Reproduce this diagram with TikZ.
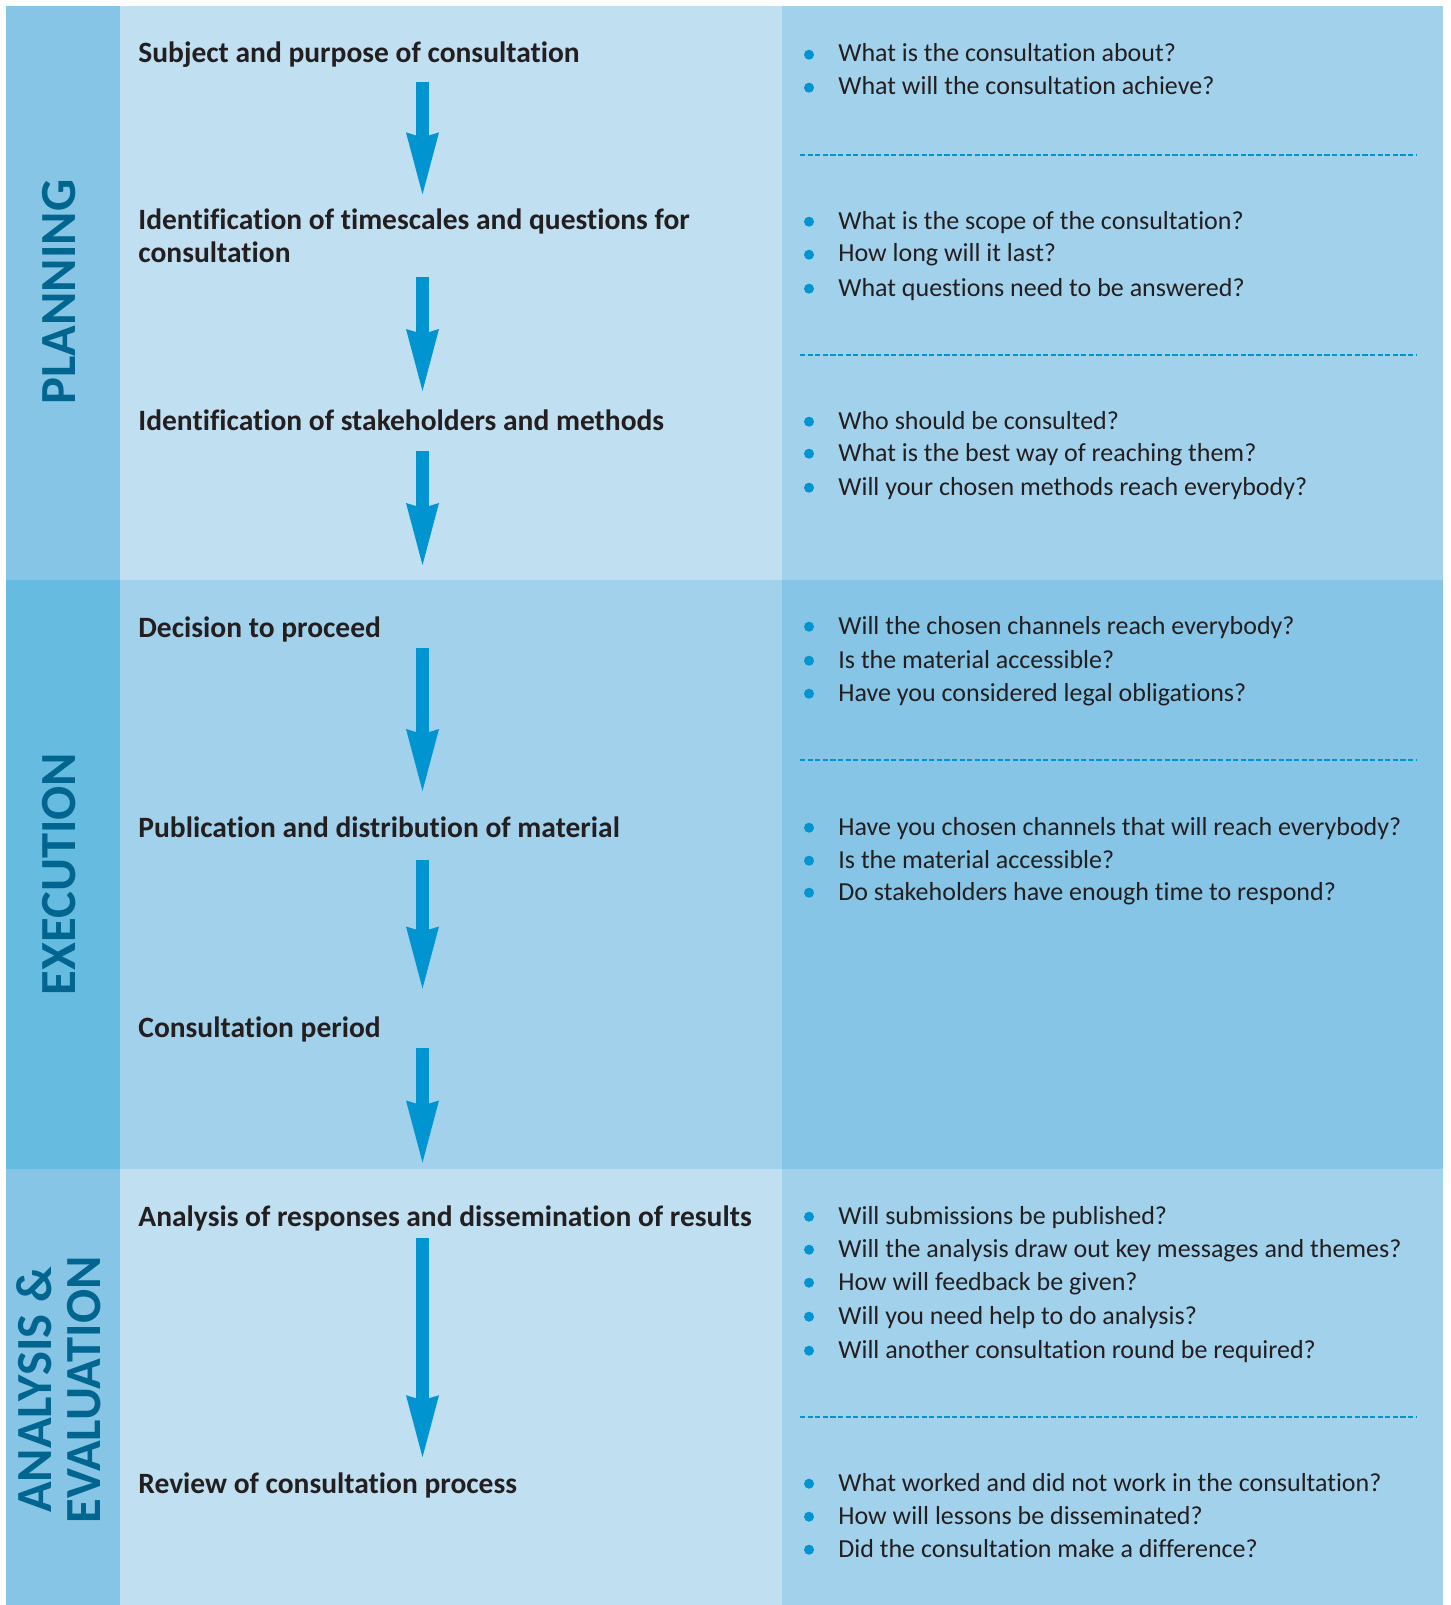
\documentclass[tikz,border=0pt]{standalone}
\usepackage{fontspec}
\setmainfont{Carlito}[Ligatures=NoCommon]
\usetikzlibrary{arrows.meta}

\definecolor{panelmid}{HTML}{C0DFF1}
\definecolor{panelside}{HTML}{A2D1EC}
\definecolor{paneldark}{HTML}{86C5E6}
\definecolor{paneldeep}{HTML}{66BBE0}
\definecolor{flowblue}{HTML}{0095D0}
\definecolor{stageblue}{HTML}{00668F}
\definecolor{ink}{HTML}{231F20}

\begin{document}
\begin{tikzpicture}[
    x=0.5pt, y=-0.5pt,
    heading/.style={anchor=base west, inner sep=0pt, text=ink,
        font=\fontsize{14.75}{16.5}\selectfont\bfseries},
    question/.style={anchor=base west, inner sep=0pt, text=ink,
        font=\fontsize{13}{15}\selectfont, text height=12pt, text depth=4.7pt},
    dot/.style={circle, fill=flowblue, inner sep=0pt, minimum size=5pt},
    stage/.style={rotate=90, inner sep=0pt, text=stageblue, align=center,
        font=\fontsize{25.3}{24.5}\selectfont\bfseries},
    flow/.style={line width=6.5pt, draw=flowblue,
        -{Stealth[length=31pt, width=16.5pt, inset=2.5pt, line width=0pt]}},
    divider/.style={draw=flowblue, line width=1pt, dash pattern=on 2.6pt off 1.2pt}
]
    \useasboundingbox (0,0) rectangle (1450,1605);

    % bands: planning, execution, analysis
    \fill[paneldark] (6,6) rectangle (120,580);
    \fill[panelmid] (120,6) rectangle (782,580);
    \fill[panelside] (782,6) rectangle (1443,580);
    \fill[paneldeep] (6,580) rectangle (120,1169);
    \fill[panelside] (120,580) rectangle (782,1169);
    \fill[paneldark] (782,580) rectangle (1443,1169);
    \fill[paneldark] (6,1169) rectangle (120,1605);
    \fill[panelmid] (120,1169) rectangle (782,1605);
    \fill[panelside] (782,1169) rectangle (1443,1605);

    % stage names
    \node[stage] (planning) at (59,292) {PLANNING};
    \node[stage] (execution) at (59,874) {EXECUTION};
    \node[stage] (analysis) at (59,1390) {ANALYSIS \&\\EVALUATION};

    % steps
    \node[heading] (h1) at (138,63) {Subject and purpose of consultation};
    \node[heading] (h2) at (138,230) {\begin{tabular}[t]{@{}l@{}}Identification of timescales and questions for\\consultation\end{tabular}};
    \node[heading] (h3) at (138,430) {Identification of stakeholders and methods};
    \node[heading] (h4) at (138,637) {Decision to proceed};
    \node[heading] (h5) at (138,837) {Publication and distribution of material};
    \node[heading] (h6) at (138,1037) {Consultation period};
    \node[heading] (h7) at (138,1226) {Analysis of responses and dissemination of results};
    \node[heading] (h8) at (138,1493) {Review of consultation process};

    \coordinate (axis) at (422.5,0);
    \foreach \a/\b/\s/\e in {h1/h2/9.5/17.8, h2/h3/23.65/19.5, h3/h4/10.65/36,
        h4/h5/5.4/23, h5/h6/11.3/24.25, h6/h7/5.45/31.75, h7/h8/6.1/17.9}
        \draw[flow, shorten <=\s pt, shorten >=\e pt] (\a.base -| axis) -- (\b.base -| axis);

    % questions
    \foreach \y/\txt in {62/What is the consultation about?,
        95/What will the consultation achieve?,
        229/What is the scope of the consultation?,
        262/How long will it last?,
        296/What questions need to be answered?,
        429/Who should be consulted?,
        461/What is the best way of reaching them?,
        495/Will your chosen methods reach everybody?,
        634/Will the chosen channels reach everybody?,
        668/Is the material accessible?,
        701/Have you considered legal obligations?,
        835/Have you chosen channels that will reach everybody?,
        868/Is the material accessible?,
        900/Do stakeholders have enough time to respond?,
        1224/Will submissions be published?,
        1257/Will the analysis draw out key messages and themes?,
        1290/How will feedback be given?,
        1324/Will you need help to do analysis?,
        1358/Will another consultation round be required?,
        1491/What worked and did not work in the consultation?,
        1524/How will lessons be disseminated?,
        1557/Did the consultation make a difference?}
    {
        \node[question] (q\y) at (838,\y) {\txt};
        \node[dot] at ([xshift=-14.5pt]q\y.west) {};
    }

    % dividers
    \foreach \y in {155,355,760,1417}
        \draw[divider] (800,\y) -- (1417,\y);
\end{tikzpicture}
\end{document}
